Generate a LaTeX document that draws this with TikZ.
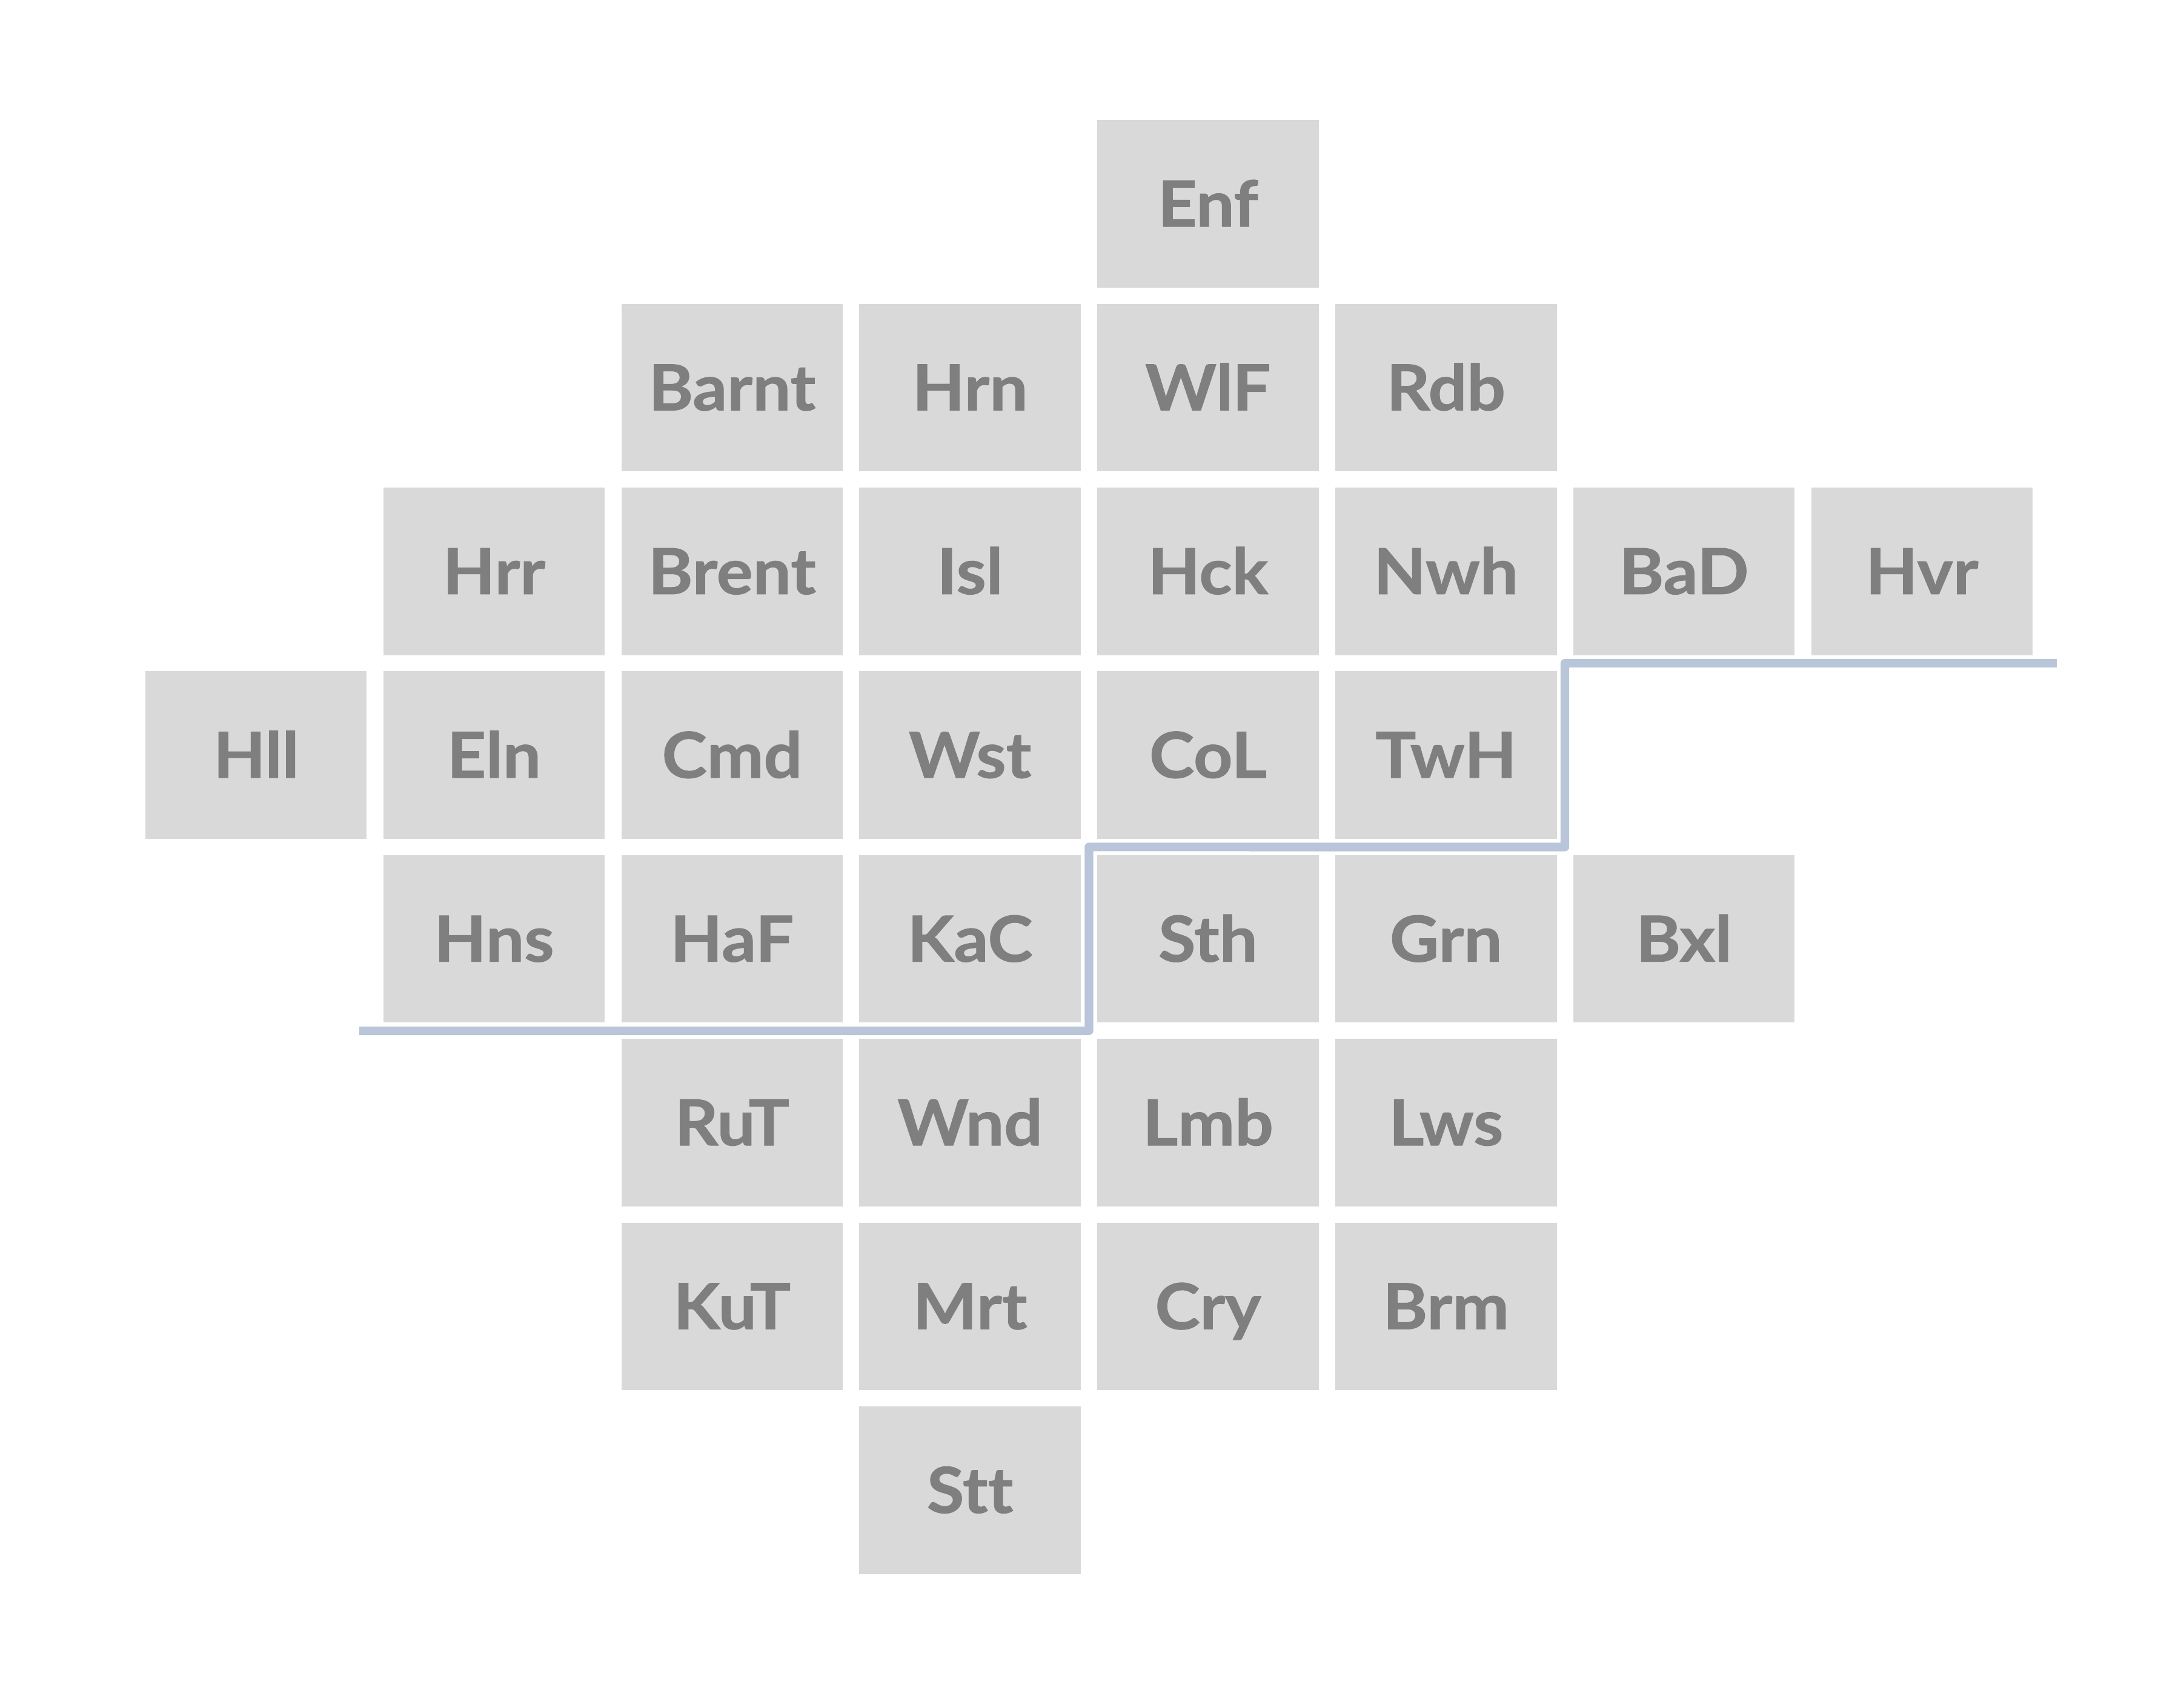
\documentclass[tikz,border=0pt]{standalone}
\usepackage{fontspec}
\setmainfont{Lato}[BoldFeatures={FakeStretch=1.07,FakeBold=1},Ligatures=NoCommon]

\definecolor{tilegray}{HTML}{D9D9D9}
\definecolor{textgray}{HTML}{7F7F7F}
\definecolor{borderblue}{HTML}{B9C5D8}

\begin{document}
\begin{tikzpicture}
      [
        x=3.928cm,
        y=-3.034cm,
        tile/.style={fill=tilegray,text=textgray,font=\fontsize{29.8}{30}\selectfont\bfseries,
          minimum width=3.655cm,minimum height=2.765cm,inner sep=0pt,outer sep=0pt,
          text height=7.5mm,text depth=0pt},
        border/.style={draw=borderblue,line width=1.42mm,line join=round}
      ]
      \useasboundingbox (-1.0762,-1.1091) rectangle (8.0887,8.1855);
      % tiles
      \foreach \name/\x/\y in {
          Enf/4/0,
          Barnt/2/1,Hrn/3/1,WlF/4/1,Rdb/5/1,
          Hrr/1/2,Brent/2/2,Isl/3/2,Hck/4/2,Nwh/5/2,BaD/6/2,Hvr/7/2,
          Hll/0/3,Eln/1/3,Cmd/2/3,Wst/3/3,CoL/4/3,TwH/5/3,
          Hns/1/4,HaF/2/4,KaC/3/4,Sth/4/4,Grn/5/4,Bxl/6/4,
          RuT/2/5,Wnd/3/5,Lmb/4/5,Lws/5/5,
          KuT/2/6,Mrt/3/6,Cry/4/6,Brm/5/6,
          Stt/3/7} {
          \node [tile] (\name) at (\x,\y) {\name};
      }
      % border line
      \coordinate (lineA) at ([shift={(-4mm,-1.35mm)}]Hns.south west);
      \coordinate (lineB) at ([shift={(1.35mm,-1.35mm)}]KaC.south east);
      \coordinate (lineC) at ([shift={(1.35mm,1.35mm)}]KaC.north east);
      \coordinate (lineD) at ([shift={(1.35mm,-1.35mm)}]TwH.south east);
      \coordinate (lineE) at ([shift={(1.35mm,1.35mm)}]TwH.north east);
      \coordinate (lineF) at ([shift={(4mm,-1.35mm)}]Hvr.south east);
      \draw [border] (lineA) -- (lineB) -- (lineC) -- (lineD) -- (lineE) -- (lineF);
    \end{tikzpicture}
\end{document}
